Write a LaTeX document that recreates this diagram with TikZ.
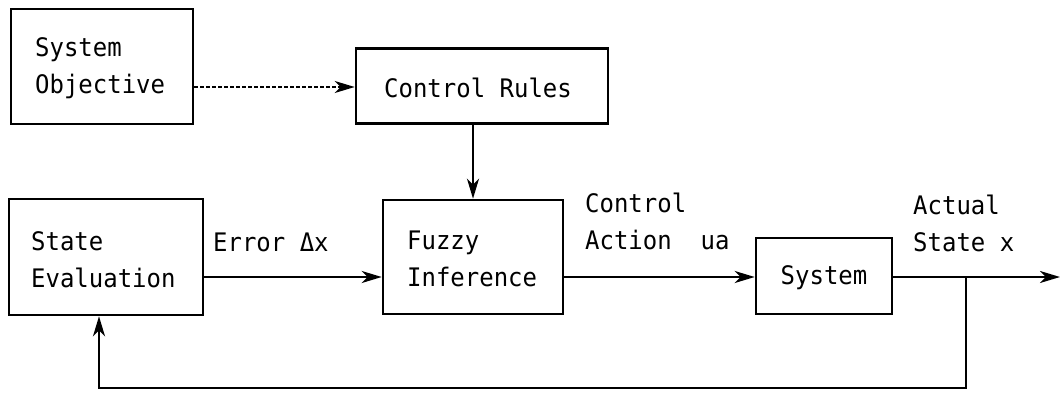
\documentclass[tikz,border=0pt]{standalone}
\usepackage{fontspec}
\newfontfamily\diafont[FakeStretch=0.94]{DejaVu Sans Mono}
\usetikzlibrary{arrows.meta}
\begin{document}
\begin{tikzpicture}[x=1pt,y=-1pt,
  box/.style={draw, line width=2.6pt, inner sep=0pt},
  txt/.style={font=\diafont\fontsize{25.5}{37}\selectfont, inner sep=0pt, align=left, anchor=west},
  conn/.style={line width=2.4pt, -{Stealth[length=20pt,width=12pt,inset=6pt]}},
  dconn/.style={line width=1.8pt, dash pattern=on 4pt off 2pt, -{Stealth[length=20pt,width=12pt,inset=6pt]}}
]
\useasboundingbox (0,0) rectangle (1062,393);
% boxes
\node[box, minimum width=182pt, minimum height=115pt] (so) at (102,66.5) {};
\node[box, minimum width=252pt, minimum height=75pt] (cr) at (482,86) {};
\node[box, minimum width=180pt, minimum height=114pt] (fi) at (473,257) {};
\node[box, minimum width=194pt, minimum height=116pt] (se) at (106,257) {};
\node[box, minimum width=136pt, minimum height=76pt] (sys) at (824,276) {};
% texts
\node[txt] (sot) at (35,68) {System\\Objective};
\node[txt, anchor=center] (crt) at (478,88) {Control Rules};
\node[txt] (fit) at (407,259) {Fuzzy\\Inference};
\node[txt] (set) at (31,260) {State\\Evaluation};
\node[txt, anchor=center] (syst) at (824,278) {System};
% labels
\node[txt] (lerr) at (213,242) {Error Δx};
\node[txt] (lca) at (585,221) {Control\\Action\ \ ua};
\node[txt] (las) at (913,223) {Actual\\State x};
% coordinates
\coordinate (out) at (1060,277);
\coordinate (br) at (966,277);
\coordinate (bl) at (966,388);
\coordinate (bs) at (99,388);
% connectors
\draw[dconn] (so.east |- 0,87) -- (cr.west |- 0,87);
\draw[conn] (cr.south -| 473,0) -- (fi.north -| 473,0);
\draw[conn] (se.east |- 0,277) -- (fi.west |- 0,277);
\draw[conn] (fi.east |- 0,277) -- (sys.west |- 0,277);
\draw[conn] (sys.east |- 0,277) -- (out);
\draw[conn] (br) -- (bl) -- (bs) -- (se.south -| bs);
\end{tikzpicture}
\end{document}
